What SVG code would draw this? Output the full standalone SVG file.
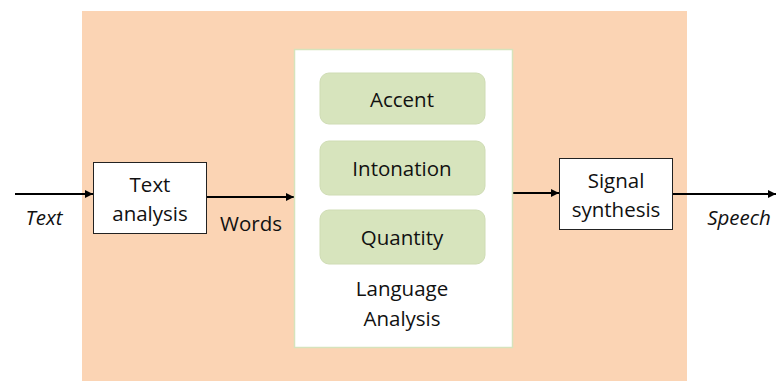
<svg xmlns="http://www.w3.org/2000/svg" width="776" height="381" viewBox="0 0 776 381">
<defs>
<style>
text{font-family:"Open Sans","Liberation Sans",sans-serif;font-size:20.5px;fill:#111;text-anchor:middle}
.it{font-style:italic}
.box{fill:#fff;stroke:#222;stroke-width:1}
.sub{fill:#d7e4bd;stroke:#cfdcb4;stroke-width:1}
.ln{stroke:#000;stroke-width:2;fill:none}
</style>
<marker id="ah" viewBox="0 0 10 10" refX="10" refY="5" markerWidth="4" markerHeight="4" orient="auto" markerUnits="strokeWidth">
<path d="M0,0 L10,5 L0,10 z" fill="#000"/>
</marker>
</defs>
<rect width="776" height="381" fill="#fff"/>
<rect id="bg" x="82" y="11" width="605" height="375" fill="#fbd4b4"/>
<g id="connectors">
<line class="ln" x1="15" y1="194" x2="93" y2="194" marker-end="url(#ah)"/>
<line class="ln" x1="206" y1="197" x2="294" y2="197" marker-end="url(#ah)"/>
<line class="ln" x1="512" y1="193" x2="559" y2="193" marker-end="url(#ah)"/>
<line class="ln" x1="672" y1="194" x2="776" y2="194" marker-end="url(#ah)"/>
</g>
<g id="lang">
<rect x="294.5" y="49.5" width="218" height="298" fill="#fff" stroke="#d6e3bc" stroke-width="1.5"/>
<text x="402" y="296">Language</text>
<text x="402" y="326">Analysis</text>
</g>
<g id="accent"><rect class="sub" x="320" y="73" width="165" height="51" rx="9"/><text x="402" y="107">Accent</text></g>
<g id="intonation"><rect class="sub" x="320" y="141" width="165" height="54" rx="9"/><text x="402" y="176">Intonation</text></g>
<g id="quantity"><rect class="sub" x="320" y="210" width="165" height="54" rx="9"/><text x="402" y="245">Quantity</text></g>
<g id="textanalysis"><rect class="box" x="93.5" y="162.5" width="113" height="71"/><text x="150" y="192">Text</text><text x="150" y="221">analysis</text></g>
<g id="signal"><rect class="box" x="559.5" y="158.5" width="113" height="71"/><text x="616" y="188">Signal</text><text x="616" y="217">synthesis</text></g>
<g id="labels">
<text class="it" x="44" y="225">Text</text>
<text x="251" y="231">Words</text>
<text class="it" x="739" y="225">Speech</text>
</g>
</svg>
